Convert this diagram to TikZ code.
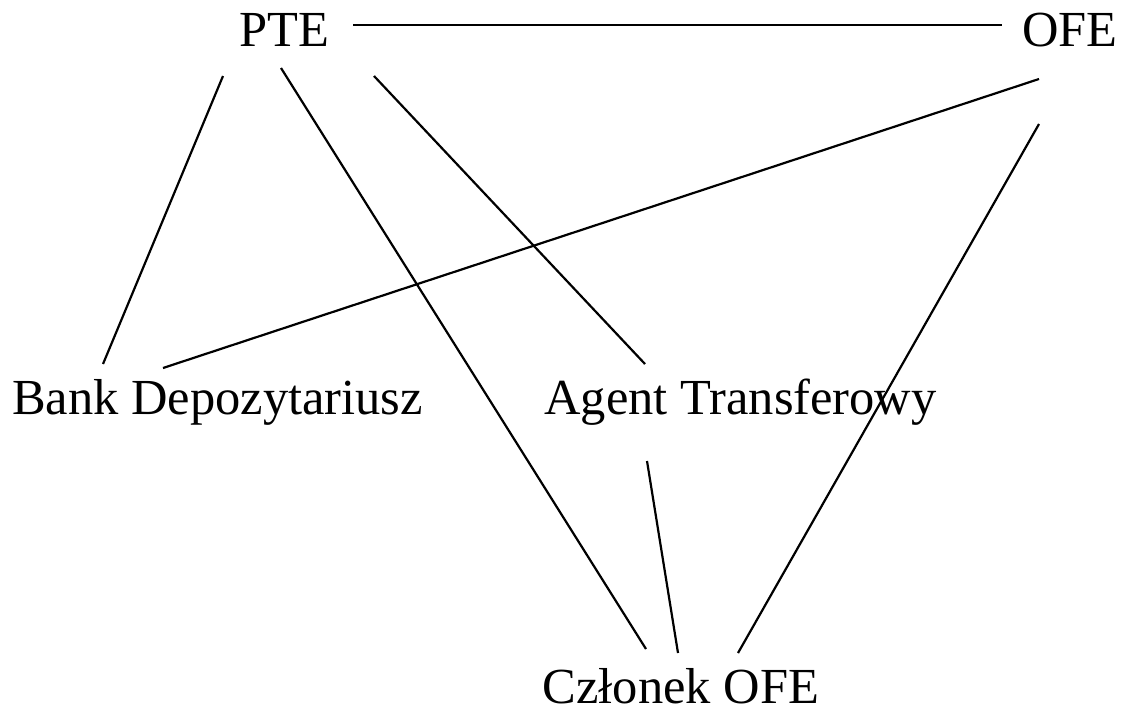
\documentclass[tikz,border=0pt]{standalone}
\usepackage{fontspec}
\setmainfont{Liberation Serif}
\usetikzlibrary{calc}
\tikzset{
  lbl/.style={anchor=base, inner sep=0pt, font=\fontsize{50.5}{60}\selectfont},
  link/.style={line width=2.2pt, black}
}
\begin{document}
\begin{tikzpicture}[x=1pt,y=-1pt]
\useasboundingbox (0,0) rectangle (1123,715);
\node[lbl] (pte) at (284,46) {PTE};
\node[lbl] (ofe) at (1070,46) {OFE};
\node[lbl] (bank) at (217.5,414) {Bank Depozytariusz};
\node[lbl] (agent) at (740.5,414) {Agent Transferowy};
\node[lbl] (czl) at (681,703) {Członek OFE};
\draw[link] ($(pte.base)+(69,-21)$) -- ($(ofe.base)+(-68,-21)$);
\draw[link] ($(pte.base)+(-61,30)$) -- ($(bank.base)+(-114.5,-50)$);
\draw[link] ($(pte.base)+(-3,22)$) -- ($(czl.base)+(-35,-54)$);
\draw[link] ($(pte.base)+(90,30)$) -- ($(agent.base)+(-95.5,-50)$);
\draw[link] ($(ofe.base)+(-31,33)$) -- ($(bank.base)+(-54.5,-46)$);
\draw[link] ($(ofe.base)+(-31,78)$) -- ($(czl.base)+(57,-50)$);
\draw[link] ($(agent.base)+(-93.5,47)$) -- ($(czl.base)+(-3,-50)$);
\end{tikzpicture}
\end{document}
